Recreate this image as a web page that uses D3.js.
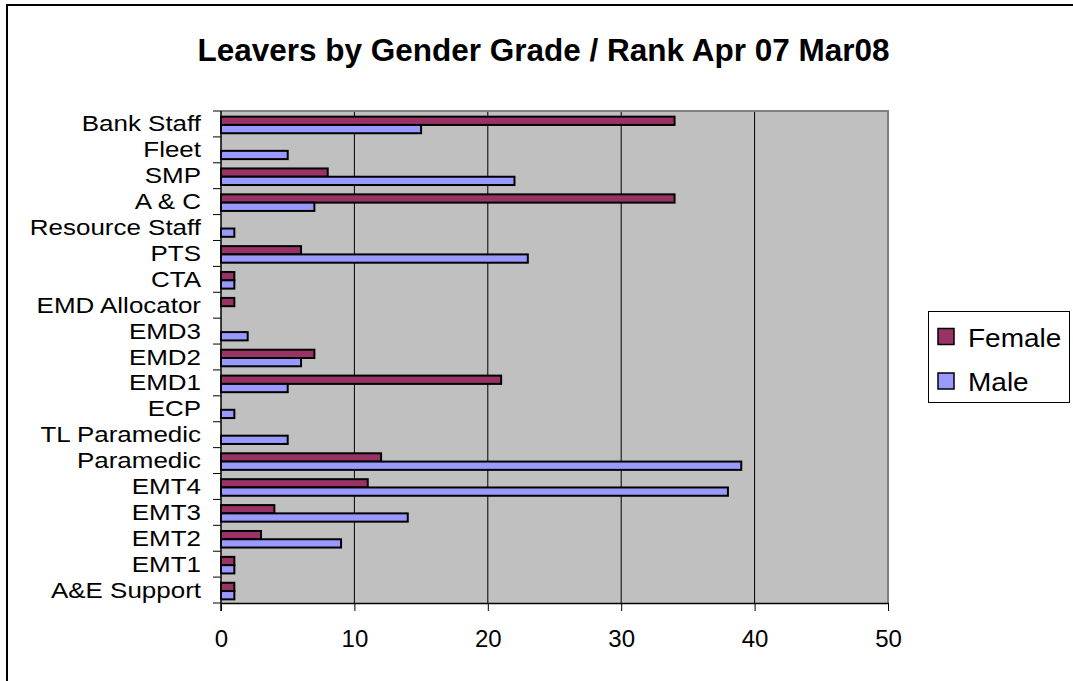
<!DOCTYPE html>
<html>
<head>
<meta charset="utf-8">
<script src="https://cdn.jsdelivr.net/npm/d3@7"></script>
<style>
  html, body { margin: 0; padding: 0; background: #fff; }
  svg { display: block; font-family: "Liberation Sans", Arial, sans-serif; }
</style>
</head>
<body>
<svg id="chart" width="1073" height="681"></svg>
<script>
// ---- Data (top-to-bottom as displayed) ----
const categories = ["Bank Staff", "Fleet", "SMP", "A & C", "Resource Staff", "PTS", "CTA",
  "EMD Allocator", "EMD3", "EMD2", "EMD1", "ECP", "TL Paramedic", "Paramedic",
  "EMT4", "EMT3", "EMT2", "EMT1", "A&E Support"];
const femaleValues = [34, 0, 8, 34, 0, 6, 1, 1, 0, 7, 21, 0, 0, 12, 11, 4, 3, 1, 1];
const maleValues   = [15, 5, 22, 7, 1, 23, 1, 0, 2, 6, 5, 1, 5, 39, 38, 14, 9, 1, 1];
const seriesNames = ["Female", "Male"];
const seriesColors = ["#993366", "#9999FF"];
const xTicks = [0, 10, 20, 30, 40, 50];
const titleText = "Leavers by Gender Grade / Rank Apr 07 Mar08";

const svg = d3.select("#chart");

// outer chart border (extends past right / bottom edge)
svg.append("rect")
  .attr("x", 7).attr("y", 5).attr("width", 1100).attr("height", 700)
  .attr("fill", "none").attr("stroke", "#000").attr("stroke-width", 2);

// title
svg.append("text")
  .attr("x", 543.5).attr("y", 61)
  .attr("text-anchor", "middle")
  .attr("font-weight", "bold")
  .attr("font-size", 31.5)
  .attr("fill", "#000")
  .text(titleText);

const plot = { left: 221, right: 888, top: 111, bottom: 603 };

const x = d3.scaleLinear().domain([0, 50]).range([plot.left, plot.right]);
const y = d3.scaleBand().domain(categories).range([plot.top, plot.bottom])
  .paddingInner(0.36).paddingOuter(0.18);
const ySub = d3.scaleBand().domain(seriesNames).range([0, y.bandwidth()]);
const step = y.step();

// plot background
svg.append("rect")
  .attr("x", plot.left).attr("y", plot.top)
  .attr("width", plot.right - plot.left).attr("height", plot.bottom - plot.top)
  .attr("fill", "#C0C0C0");

// gridlines
svg.append("g").selectAll("line")
  .data(xTicks.filter(d => d > 0 && d < 50))
  .join("line")
  .attr("x1", d => x(d)).attr("x2", d => x(d))
  .attr("y1", plot.top).attr("y2", plot.bottom)
  .attr("stroke", "#000").attr("stroke-width", 1);

// plot border top/right (gray)
svg.append("path")
  .attr("d", `M${plot.left},${plot.top}H${plot.right}V${plot.bottom}`)
  .attr("fill", "none").attr("stroke", "#808080").attr("stroke-width", 2);

// bars
const rows = categories.map((c, i) => ({ cat: c, vals: [femaleValues[i], maleValues[i]] }));
const barG = svg.append("g").attr("transform", "translate(0,1)");
rows.forEach(r => {
  seriesNames.forEach((s, si) => {
    const v = r.vals[si];
    if (v <= 0) return;
    barG.append("rect")
      .attr("x", x(0))
      .attr("y", y(r.cat) + ySub(s))
      .attr("width", x(v) - x(0))
      .attr("height", ySub.bandwidth())
      .attr("fill", seriesColors[si])
      .attr("stroke", "#000")
      .attr("stroke-width", 2);
  });
});

// x axis
const xAxis = d3.axisBottom(x).tickValues(xTicks).tickSize(8).tickSizeOuter(0).tickPadding(12);
const gx = svg.append("g").attr("transform", `translate(0,${plot.bottom})`).call(xAxis);
gx.select(".domain").attr("stroke", "#000").attr("stroke-width", 1.5);
gx.selectAll(".tick line").attr("stroke", "#000");
gx.selectAll(".tick text").attr("font-size", 24).attr("fill", "#000")
  .attr("font-family", "Liberation Sans, Arial, sans-serif")
  .attr("dy", null).attr("y", 44);

// y axis line + ticks at category boundaries
svg.append("line")
  .attr("x1", plot.left).attr("x2", plot.left)
  .attr("y1", plot.top).attr("y2", plot.bottom + 8)
  .attr("stroke", "#000").attr("stroke-width", 1.5);
svg.append("g").selectAll("line")
  .data(d3.range(categories.length + 1))
  .join("line")
  .attr("x1", plot.left - 8).attr("x2", plot.left)
  .attr("y1", i => plot.top + i * step).attr("y2", i => plot.top + i * step)
  .attr("stroke", "#000").attr("stroke-width", 1);

// category labels (slightly widened to match reference)
svg.append("g").selectAll("text")
  .data(categories)
  .join("text")
  .attr("transform", d => `translate(201,${y(d) + y.bandwidth() / 2 + 7.5}) scale(1.18,1)`)
  .attr("text-anchor", "end")
  .attr("font-size", 22)
  .attr("fill", "#000")
  .text(d => d);

// legend
const lg = svg.append("g");
lg.append("rect")
  .attr("x", 928.5).attr("y", 311.5).attr("width", 141).attr("height", 91)
  .attr("fill", "#fff").attr("stroke", "#000").attr("stroke-width", 1);
seriesNames.forEach((s, i) => {
  const base = 346.5 + i * 44.5;
  lg.append("rect")
    .attr("x", 938).attr("y", base - 18).attr("width", 16).attr("height", 16)
    .attr("fill", seriesColors[i]).attr("stroke", "#000").attr("stroke-width", 1.5);
  lg.append("text")
    .attr("transform", `translate(968,${base}) scale(1.12,1)`)
    .attr("font-size", 25)
    .attr("fill", "#000")
    .text(s);
});
</script>
</body>
</html>
